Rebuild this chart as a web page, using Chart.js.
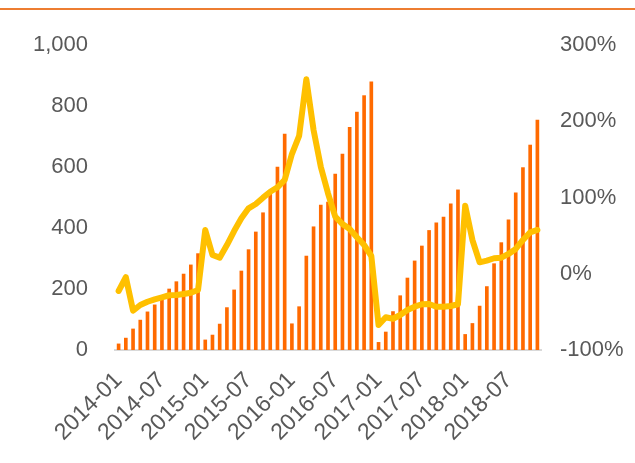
<!DOCTYPE html>
<html>
<head>
<meta charset="utf-8">
<script src="https://cdn.jsdelivr.net/npm/chart.js@4/dist/chart.umd.min.js"></script>
<style>
  body { margin: 0; background: #fff; }
  #wrap { position: relative; width: 635px; height: 463px; }
  #topRule { position: absolute; left: 0; top: 8px; width: 635px; height: 2px; background: #ED7D31; }
</style>
</head>
<body>
<div id="wrap">
  <div id="topRule"></div>
  <canvas id="myChart" width="635" height="463"></canvas>
</div>
<script>
// monthly categories, 2014-01 .. 2018-11
const months = [
  "2014-01", "2014-02", "2014-03", "2014-04", "2014-05", "2014-06",
  "2014-07", "2014-08", "2014-09", "2014-10", "2014-11", "2014-12",
  "2015-01", "2015-02", "2015-03", "2015-04", "2015-05", "2015-06",
  "2015-07", "2015-08", "2015-09", "2015-10", "2015-11", "2015-12",
  "2016-01", "2016-02", "2016-03", "2016-04", "2016-05", "2016-06",
  "2016-07", "2016-08", "2016-09", "2016-10", "2016-11", "2016-12",
  "2017-01", "2017-02", "2017-03", "2017-04", "2017-05", "2017-06",
  "2017-07", "2017-08", "2017-09", "2017-10", "2017-11", "2017-12",
  "2018-01", "2018-02", "2018-03", "2018-04", "2018-05", "2018-06",
  "2018-07", "2018-08", "2018-09", "2018-10", "2018-11",
];

// cumulative value (left axis)
const cumValues = [
  20, 39, 69, 98, 125, 148, 165, 200, 224, 249, 279, 316,
  33, 49, 85, 139, 197, 259, 329, 387, 450, 514, 600, 708,
  86, 142, 308, 404, 475, 485, 577, 642, 730, 780, 834, 879,
  25, 59, 126, 178, 236, 292, 341, 392, 417, 436, 479, 525,
  51, 87, 144, 208, 283, 352, 427, 515, 598, 672, 754,
];

// year-on-year growth in % (right axis)
const yoyGrowth = [
  -22.6, -4.6, -48.5, -41, -36.7, -33.5, -30.9, -28.2, -27.9, -26.6, -24.9, -21.3,
  57.4, 24.6, 21.1, 37.7, 56, 72.7, 85.8, 91.5, 99.8, 107.6, 113.4, 123,
  157, 180.7, 255, 188.5, 140.4, 105.5, 74.8, 65.2, 58.7, 47.8, 37.7, 23.3,
  -67.2, -57.1, -59, -54.1, -47.5, -43.2, -40, -39.7, -43.2, -43.2, -42.3, -40,
  89.3, 44.3, 15, 17.2, 20.3, 21.1, 26, 32.5, 44.3, 54.4, 57.4,
];

const leftTicks = [0, 200, 400, 600, 800, 1000];
const rightTicks = [-100, 0, 100, 200, 300];

const textColor = "#595959";
const fontFamily = "'Liberation Sans', Arial, sans-serif";

const ctx = document.getElementById("myChart");

new Chart(ctx, {
  type: "bar",
  data: {
    labels: months,
    datasets: [
      {
        type: "line",
        data: yoyGrowth,
        yAxisID: "y1",
        borderColor: "#FFC000",
        borderWidth: 6,
        borderJoinStyle: "round",
        borderCapStyle: "round",
        pointRadius: 0,
        tension: 0,
        order: 0,
      },
      {
        type: "bar",
        data: cumValues,
        yAxisID: "y",
        backgroundColor: "#FF6A00",
        barThickness: 3,
        order: 1,
      },
    ],
  },
  options: {
    responsive: false,
    animation: false,
    layout: { padding: { top: 45, left: 0, right: 0, bottom: 0 } },
    plugins: {
      legend: { display: false },
      tooltip: { enabled: false },
    },
    scales: {
      x: {
        grid: { display: false },
        border: { display: true, color: "#D9D9D9", width: 2 },
        ticks: {
          autoSkip: false,
          maxRotation: 45,
          minRotation: 45,
          padding: 9,
          color: textColor,
          font: { family: fontFamily, size: 23 },
          callback: function (value, index) {
            return index % 6 === 0 ? months[index] : "";
          },
        },
        afterFit: (scale) => {
          scale.height = 113;
        },
      },
      y: {
        position: "left",
        min: leftTicks[0],
        max: leftTicks[leftTicks.length - 1],
        grid: { display: false },
        border: { display: false },
        ticks: {
          stepSize: 200,
          padding: 19,
          color: textColor,
          font: { family: fontFamily, size: 22 },
        },
        afterFit: (scale) => {
          scale.width = 115;
        },
      },
      y1: {
        position: "right",
        min: rightTicks[0],
        max: rightTicks[rightTicks.length - 1],
        grid: { display: false },
        border: { display: false },
        ticks: {
          stepSize: 100,
          padding: 11,
          color: textColor,
          font: { family: fontFamily, size: 22 },
          callback: (v) => v + "%",
        },
        afterFit: (scale) => {
          scale.width = 94;
        },
      },
    },
  },
});
</script>
</body>
</html>
